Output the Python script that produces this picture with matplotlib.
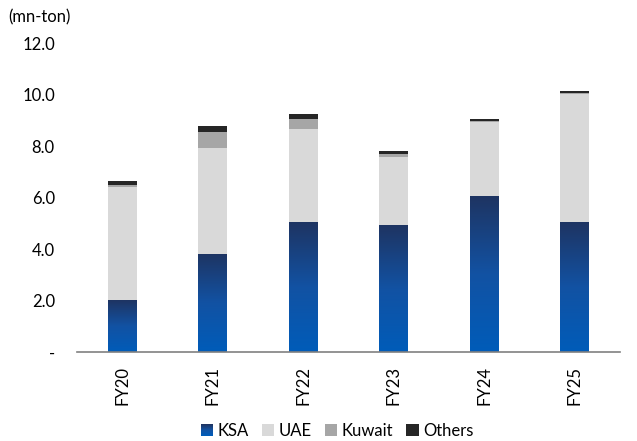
import numpy as np
import matplotlib
matplotlib.use("Agg")
from matplotlib import pyplot as plt
from matplotlib.colors import LinearSegmentedColormap
from matplotlib.patches import Rectangle, Patch
from matplotlib.legend_handler import HandlerBase

years = ["FY20", "FY21", "FY22", "FY23", "FY24", "FY25"]
ksa = [2.02, 3.81, 5.05, 4.93, 6.06, 5.05]
uae = [4.38, 4.13, 3.61, 2.65, 2.87, 4.97]
kuwait = [0.07, 0.59, 0.39, 0.12, 0.04, 0.06]
others = [0.17, 0.25, 0.19, 0.10, 0.07, 0.06]

plt.rcParams["font.family"] = ["Lato", "DejaVu Sans"]
fs = 12

ksa_cmap = LinearSegmentedColormap.from_list("ksa", ["#005cb9", "#1252a3", "#1e3462"])


class GradientHandler(HandlerBase):
    def create_artists(self, legend, orig_handle, xdescent, ydescent,
                       width, height, fontsize, trans):
        n = 12
        side = height
        x0 = -xdescent + width - side
        arts = []
        for k in range(n):
            r = Rectangle((x0, -ydescent + side * k / n), side, side / n + 0.05,
                          facecolor=ksa_cmap(k / (n - 1)), edgecolor="none",
                          transform=trans)
            arts.append(r)
        return arts


fig = plt.figure(figsize=(6.37, 4.41), dpi=100)
ax = fig.add_axes([0.121, 0.202, 0.852, 0.700])

x = np.arange(len(years))
w = 0.32

ksa_bars = ax.bar(x, ksa, width=w, color="none", edgecolor="none")
grad = np.linspace(0, 1, 256).reshape(-1, 1)
for bar in ksa_bars:
    bx, bw, bh = bar.get_x(), bar.get_width(), bar.get_height()
    im = ax.imshow(grad, cmap=ksa_cmap, origin="lower", aspect="auto",
                   extent=[bx, bx + bw, 0, bh], zorder=2)
    im.set_clip_path(bar)

bottom = np.array(ksa)
ax.bar(x, uae, width=w, bottom=bottom, color="#d9d9d9", zorder=2)
bottom = bottom + np.array(uae)
ax.bar(x, kuwait, width=w, bottom=bottom, color="#a6a6a6", zorder=2)
bottom = bottom + np.array(kuwait)
ax.bar(x, others, width=w, bottom=bottom, color="#262626", zorder=2)

ax.set_xlim(-0.5, len(years) - 0.5)
ax.set_ylim(0, 12)
ax.set_xticks(x)
ax.set_xticklabels(years, rotation=90)
yt = np.arange(0, 13, 2)
ax.set_yticks(yt)
ax.set_yticklabels(["-"] + [f"{v:.1f}" for v in yt[1:]])
ax.tick_params(axis="both", length=0, colors="black", labelsize=fs)
ax.tick_params(axis="y", pad=16)
ax.tick_params(axis="x", pad=10)
for s in ["top", "right", "left"]:
    ax.spines[s].set_visible(False)
ax.spines["bottom"].set_color("#808080")
ax.spines["bottom"].set_linewidth(1.2)
ax.spines["bottom"].set_zorder(3)

fig.text(8 / 637, 1 - 17 / 441, "(mn-ton)", ha="left", va="center", fontsize=fs)

handles = [Patch(label="KSA"),
           Patch(facecolor="#d9d9d9", label="UAE"),
           Patch(facecolor="#a6a6a6", label="Kuwait"),
           Patch(facecolor="#262626", label="Others")]
fig.legend(handles=handles, loc="center", bbox_to_anchor=(337 / 637, 1 - 431 / 441),
           ncol=4, frameon=False, handlelength=0.75, handleheight=0.75,
           handletextpad=0.25, columnspacing=0.8, fontsize=fs,
           handler_map={handles[0]: GradientHandler()})

fig.savefig("out.png", dpi=100)
